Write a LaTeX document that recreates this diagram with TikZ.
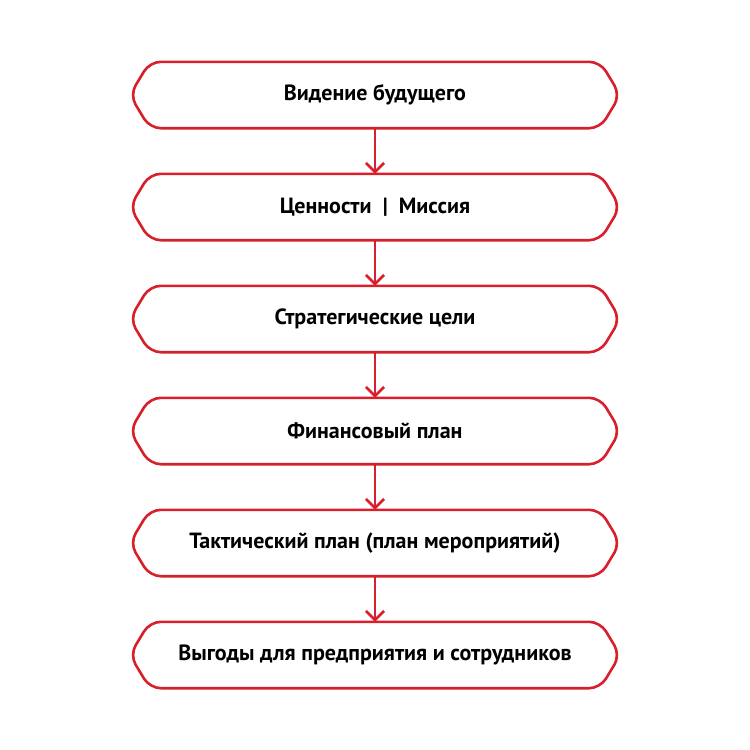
\documentclass[tikz,border=0pt]{standalone}
\usepackage{fontspec}
\setmainfont{PT Sans}
\usetikzlibrary{arrows.meta}
\definecolor{rd}{HTML}{D7202B}
\begin{document}
\begin{tikzpicture}[x=1pt,y=-1pt,
  box/.style={minimum width=490pt,minimum height=66pt,inner sep=0pt,font=\fontsize{22}{26}\selectfont\bfseries},
  arr/.style={draw=rd,line width=2.6pt,-{Straight Barb[length=9pt,width=18pt,line width=2.6pt]}}]
\useasboundingbox (0,0) rectangle (750,750);
\node[box] (b1) at (375,95) {Видение будущего};
\node[box] (b2) at (375,207) {Ценности \ | \ Миссия};
\node[box] (b3) at (375,319) {Стратегические цели};
\node[box] (b4) at (375,431) {Финансовый план};
\node[box] (b5) at (375,543) {Тактический план (план мероприятий)};
\node[box] (b6) at (375,655) {Выгоды для предприятия и сотрудников};
\foreach \n in {b1,b2,b3,b4,b5,b6}{
  \draw[rd,line width=2.6pt,rounded corners=11pt]
   (\n.west) -- ([xshift=20pt]\n.north west) -- ([xshift=-20pt]\n.north east)
   -- (\n.east) -- ([xshift=-20pt]\n.south east) -- ([xshift=20pt]\n.south west) -- cycle;
}
\foreach \a/\b in {b1/b2,b2/b3,b3/b4,b4/b5,b5/b6}{
  \draw[arr] (\a.south) -- (\b.north);
}
\end{tikzpicture}
\end{document}
